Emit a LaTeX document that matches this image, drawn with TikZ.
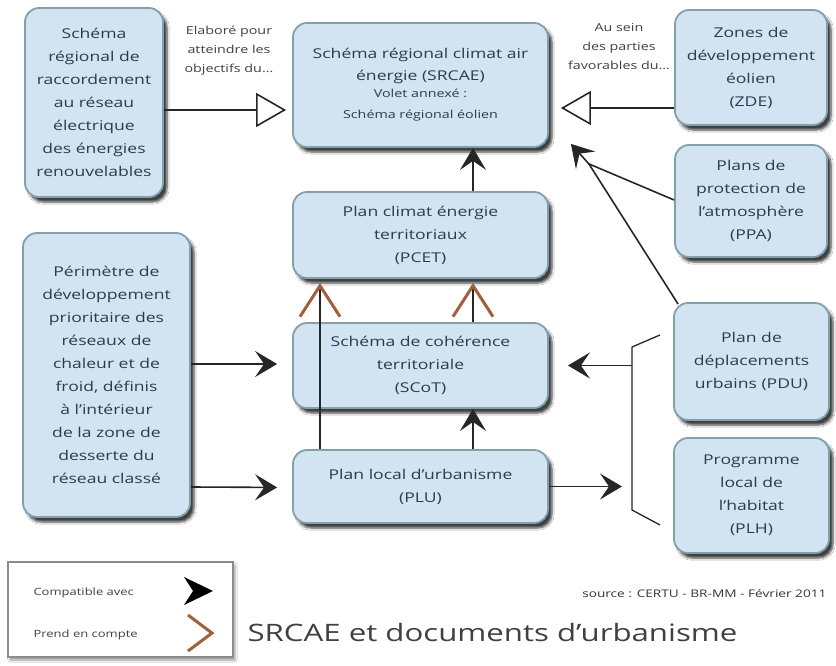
\documentclass[tikz,border=0pt]{standalone}
\usepackage{fontspec}
\setmainfont{Open Sans}[FakeStretch=1.3]
\usetikzlibrary{arrows.meta,shadows.blur}
\definecolor{boxc}{HTML}{D2E3F2}
\definecolor{bordc}{HTML}{82A0AC}
\definecolor{txtc}{HTML}{2C3B50}
\definecolor{brownc}{HTML}{A0603C}
\begin{document}
\begin{tikzpicture}[x=1pt,y=-1pt,
  box/.style={draw=bordc, line width=1.8pt, fill=boxc, rounded corners=14pt, align=center,
    text=txtc, inner sep=2pt, font=\fontsize{13.5}{23}\selectfont,
    blur shadow={shadow xshift=4pt, shadow yshift=-5pt, shadow opacity=75, shadow blur steps=6}},
  conn/.style={line width=1.6pt, draw=black!85},
  cpt/.style={conn, -{Stealth[length=22pt,width=26pt,inset=9pt]}},
  prc/.style={conn, -{Straight Barb[length=31pt,width=40pt,line width=3pt,color=brownc]}},
  tri/.style={conn, -{Triangle[open,length=30pt,width=34pt,fill=white,line width=1.6pt]}},
  lab/.style={align=center, text=black!75, font=\fontsize{11}{19}\selectfont}
]
\useasboundingbox (0,0) rectangle (836,666);
\fill[white] (0,0) rectangle (836,666);

% boxes
\node[box, minimum width=138pt, minimum height=189pt] (srr) at (94,102.5)
  {Schéma\\régional de\\raccordement\\au réseau\\électrique\\des énergies\\renouvelables};
\node[box, minimum width=255pt, minimum height=124pt] (srcae) at (420.5,85)
  {Schéma régional climat air\\[-1pt]énergie (SRCAE)\\[-6pt]{\fontsize{11}{18}\selectfont Volet annexé :}\\[-2pt]{\fontsize{11}{18}\selectfont Schéma régional éolien}};
\node[box, minimum width=152pt, minimum height=115pt] (zde) at (751,67.5)
  {Zones de\\développement\\éolien\\(ZDE)};
\node[box, minimum width=152pt, minimum height=112pt] (ppa) at (751,201)
  {Plans de\\protection de\\l'atmosphère\\(PPA)};
\node[box, minimum width=255pt, minimum height=86pt] (pcet) at (420.5,235)
  {Plan climat énergie\\territoriaux\\(PCET)};
\node[box, minimum width=255pt, minimum height=85pt] (scot) at (420.5,365.5)
  {Schéma de cohérence\\territoriale\\(SCoT)};
\node[box, minimum width=255pt, minimum height=73pt] (plu) at (420.5,486.5)
  {Plan local d'urbanisme\\(PLU)};
\node[box, minimum width=167pt, minimum height=284pt] (per) at (106.5,375)
  {Périmètre de\\développement\\prioritaire des\\réseaux de\\chaleur et de\\froid, définis\\à l'intérieur\\de la zone de\\desserte du\\réseau classé};
\node[box, minimum width=155pt, minimum height=117pt] (pdu) at (751.5,361.5)
  {Plan de\\déplacements\\urbains (PDU)};
\node[box, minimum width=155pt, minimum height=115pt] (plh) at (751.5,495.5)
  {Programme\\local de\\l'habitat\\(PLH)};

% labels
\node[lab] (l1) at (229,51) {Elaboré pour\\atteindre les\\objectifs du...};
\node[lab] (l2) at (619,47) {Au sein\\des parties\\favorables du...};

% connectors
\draw[tri, shorten >=6pt] ([yshift=-7.5pt]srr.east) -- ([yshift=-25pt]srcae.west);
\draw[tri, shorten >=12pt] ([yshift=-40.5pt]zde.west) -- ([yshift=-23pt]srcae.east);

\coordinate (tip) at ([xshift=22pt,yshift=4pt]srcae.south east);
\coordinate (meet) at ([xshift=40pt,yshift=-16pt]srcae.south east);
\draw[conn] ([yshift=1pt]ppa.west) -- (meet);
\draw[conn] ([xshift=5pt,yshift=-2pt]pdu.north west) -- (meet);
\draw[cpt] (meet) -- (tip);

\draw[cpt] ([xshift=52.5pt]pcet.north) -- ([xshift=52.5pt]srcae.south);
\draw[prc, shorten >=4pt] ([xshift=52.5pt]scot.north) -- ([xshift=52.5pt]pcet.south);
\draw[prc, shorten >=4pt] ([xshift=-100.5pt]plu.north) -- ([xshift=-100.5pt]pcet.south);
\draw[cpt] ([xshift=52.5pt]plu.north) -- ([xshift=52.5pt]scot.south);

\draw[cpt, shorten >=15pt] ([yshift=11pt]per.east) -- ([yshift=1.5pt]scot.west);
\draw[cpt, shorten >=15pt] ([yshift=-112pt]per.east) -- ([yshift=-1pt]plu.west);

\coordinate (b1) at (660,335);
\coordinate (b2) at (632,347);
\coordinate (b3) at (632,510);
\coordinate (b4) at (660,525);
\draw[conn, line width=1.3pt] (b1) -- (b2) -- (b3) -- (b4);
\draw[cpt, shorten >=10pt] (plu.east) -- (plu.east -| b2);
\draw[cpt, shorten >=19pt] (scot.east -| b2) -- (scot.east);

% legend
\node[draw=black!45, line width=1.2pt, fill=white, minimum width=225pt, minimum height=95pt,
  blur shadow={shadow xshift=2pt, shadow yshift=-3pt, shadow opacity=40}] (leg) at (120.5,609.5) {};
\node[lab, anchor=west, font=\fontsize{10}{12}\selectfont] (lc) at (30,593) {Compatible avec};
\node[lab, anchor=west, font=\fontsize{10}{12}\selectfont] (lp) at (30,635) {Prend en compte};
\fill[black] (184,577) -- (213,591) -- (184,605) -- (193,591) -- cycle;
\draw[brownc, line width=3pt] (188,615) -- (212,633) -- (188,651);

\node[anchor=west, text=black!75, font=\fontsize{24}{28}\selectfont] (title) at (244,632) {SRCAE et documents d'urbanisme};
\node[anchor=east, text=black!80, font=\fontsize{10.5}{12}\selectfont] (src) at (830,594) {source : CERTU - BR-MM - Février 2011};
\end{tikzpicture}
\end{document}
